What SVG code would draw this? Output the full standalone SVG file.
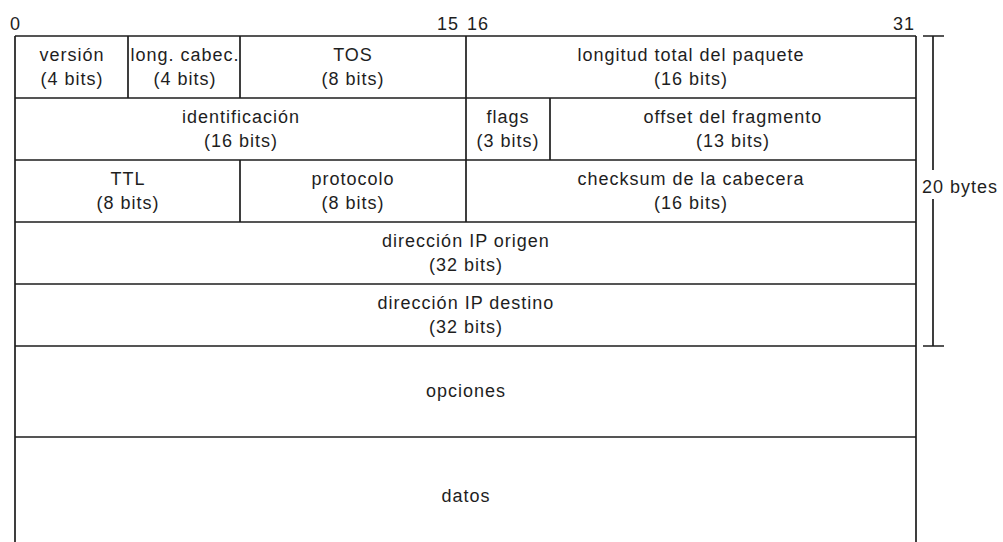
<svg xmlns="http://www.w3.org/2000/svg" width="1003" height="542" viewBox="0 0 1003 542">
<style>
.ln{stroke:#1e1e1e;stroke-width:1.7;fill:none}
text{font-family:"Liberation Sans",Arial,sans-serif;font-size:18px;letter-spacing:1px;fill:#1e1e1e;text-anchor:middle}
.st{text-anchor:start}
.en{text-anchor:end}
</style>
<rect width="1003" height="542" fill="#fff"/>
<g id="bit-labels">
<text class="st" x="10" y="30">0</text>
<text class="en" x="459" y="30">15</text>
<text class="st" x="467" y="30">16</text>
<text class="en" x="915" y="30">31</text>
</g>
<g id="grid" class="ln">
<path d="M15,36 H916 M15,98 H916 M15,160 H916 M15,222 H916 M15,284 H916 M15,346 H916 M15,437 H916"/>
<path d="M15,36 V542 M916,36 V542"/>
<path d="M128,36 V98 M240,36 V98 M466,36 V98"/>
<path d="M466,98 V160 M550,98 V160"/>
<path d="M240,160 V222 M466,160 V222"/>
</g>
<g id="version"><text x="72" y="61">versión</text><text x="72" y="85">(4 bits)</text></g>
<g id="long-cabec"><text x="185" y="61">long. cabec.</text><text x="185" y="85">(4 bits)</text></g>
<g id="tos"><text x="353" y="61">TOS</text><text x="353" y="85">(8 bits)</text></g>
<g id="longitud-total"><text x="691" y="61">longitud total del paquete</text><text x="691" y="85">(16 bits)</text></g>
<g id="identificacion"><text x="241" y="123">identificación</text><text x="241" y="147">(16 bits)</text></g>
<g id="flags"><text x="508" y="123">flags</text><text x="508" y="147">(3 bits)</text></g>
<g id="offset"><text x="733" y="123">offset del fragmento</text><text x="733" y="147">(13 bits)</text></g>
<g id="ttl"><text x="128" y="185">TTL</text><text x="128" y="209">(8 bits)</text></g>
<g id="protocolo"><text x="353" y="185">protocolo</text><text x="353" y="209">(8 bits)</text></g>
<g id="checksum"><text x="691" y="185">checksum de la cabecera</text><text x="691" y="209">(16 bits)</text></g>
<g id="ip-origen"><text x="466" y="247">dirección IP origen</text><text x="466" y="271">(32 bits)</text></g>
<g id="ip-destino"><text x="466" y="309">dirección IP destino</text><text x="466" y="333">(32 bits)</text></g>
<g id="opciones"><text x="466" y="397">opciones</text></g>
<g id="datos"><text x="466" y="502">datos</text></g>
<g id="connectors">
<g class="ln"><path d="M923,36 H944 M933,36 V170 M933,199 V346 M923,346 H944"/></g>
<text class="st" x="922" y="193">20 bytes</text>
</g>
</svg>
